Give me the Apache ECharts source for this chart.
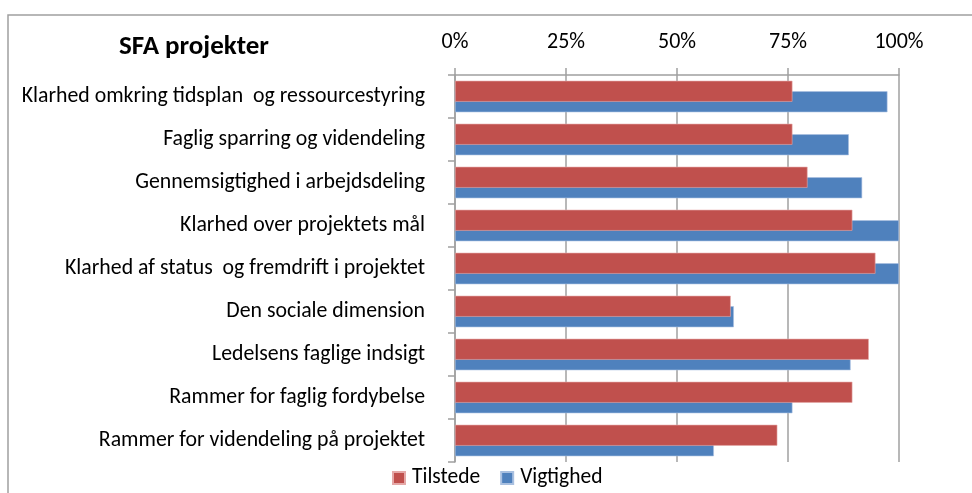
<!DOCTYPE html>
<html>
<head>
<meta charset="utf-8">
<script src="https://cdn.jsdelivr.net/npm/echarts@6/dist/echarts.min.js"></script>
<style>
  html, body { margin: 0; padding: 0; background: #fff; }
  #chart { width: 972px; height: 493px; }
</style>
</head>
<body>
<div id="chart"></div>
<script>
const categories = [
  'Klarhed omkring tidsplan  og ressourcestyring',
  'Faglig sparring og videndeling',
  'Gennemsigtighed i arbejdsdeling',
  'Klarhed over projektets mål',
  'Klarhed af status  og fremdrift i projektet',
  'Den sociale dimension',
  'Ledelsens faglige indsigt',
  'Rammer for faglig fordybelse',
  'Rammer for videndeling på projektet'
]
const tilstede = [76, 76, 79.4, 89.5, 94.7, 62.1, 93.2, 89.5, 72.6]
const vigtighed = [97.4, 88.7, 91.7, 100, 100, 62.8, 89.1, 76, 58.3]
const xTicks = [0, 25, 50, 75, 100]

const font = "Carlito, 'Open Sans', sans-serif"
const myChart = echarts.init(document.getElementById('chart'))

let option = {
  animation: false,
  color: ['#C0504D', '#4F81BD'],
  textStyle: { fontFamily: font },
  title: {
    text: 'SFA projekter',
    left: 114,
    top: 29,
    textStyle: { fontFamily: font, fontSize: 27, fontWeight: 'bold', color: '#000' }
  },
  graphic: [{
    type: 'rect',
    shape: { x: 8, y: 15, width: 1000, height: 600 },
    style: { fill: 'none', stroke: '#a0a0a0', lineWidth: 1.5 },
    silent: true
  }],
  legend: {
    data: ['Tilstede', 'Vigtighed'],
    left: 387,
    top: 462,
    icon: 'rect',
    itemWidth: 12,
    itemHeight: 12,
    itemGap: 20,
    textStyle: { fontFamily: font, fontSize: 21.5, color: '#000', padding: [0, 0, 0, 2] }
  },
  grid: {
    left: 455,
    top: 75,
    right: 73,
    bottom: 31
  },
  xAxis: {
    type: 'value',
    position: 'top',
    min: xTicks[0],
    max: xTicks[xTicks.length - 1],
    interval: 25,
    axisLabel: {
      formatter: '{value}%',
      margin: 22,
      fontSize: 22,
      color: '#000',
      fontFamily: font
    },
    axisLine: { show: true, lineStyle: { color: '#a0a0a0', width: 1.5 } },
    axisTick: { show: true, length: 7, lineStyle: { color: '#a0a0a0', width: 1.5 } },
    splitLine: { show: true, lineStyle: { color: '#a0a0a0', width: 1.5 } }
  },
  yAxis: {
    type: 'category',
    inverse: true,
    data: categories,
    axisLabel: {
      margin: 30,
      fontSize: 21.8,
      color: '#000',
      fontFamily: font
    },
    axisLine: { show: true, lineStyle: { color: '#a0a0a0', width: 1.5 } },
    axisTick: { show: true, length: 7, lineStyle: { color: '#a0a0a0', width: 1.5 } }
  },
  series: [
    {
      name: 'Tilstede',
      type: 'bar',
      barWidth: 21,
      barGap: '-50%',
      z: 3,
      itemStyle: { borderColor: '#e5a9a8', borderWidth: 0.6 },
      data: tilstede
    },
    {
      name: 'Vigtighed',
      type: 'bar',
      barWidth: 21,
      barGap: '-50%',
      z: 2,
      itemStyle: { borderColor: '#a9c0e0', borderWidth: 0.6 },
      data: vigtighed
    }
  ]
}
myChart.setOption(option)
</script>
</body>
</html>
